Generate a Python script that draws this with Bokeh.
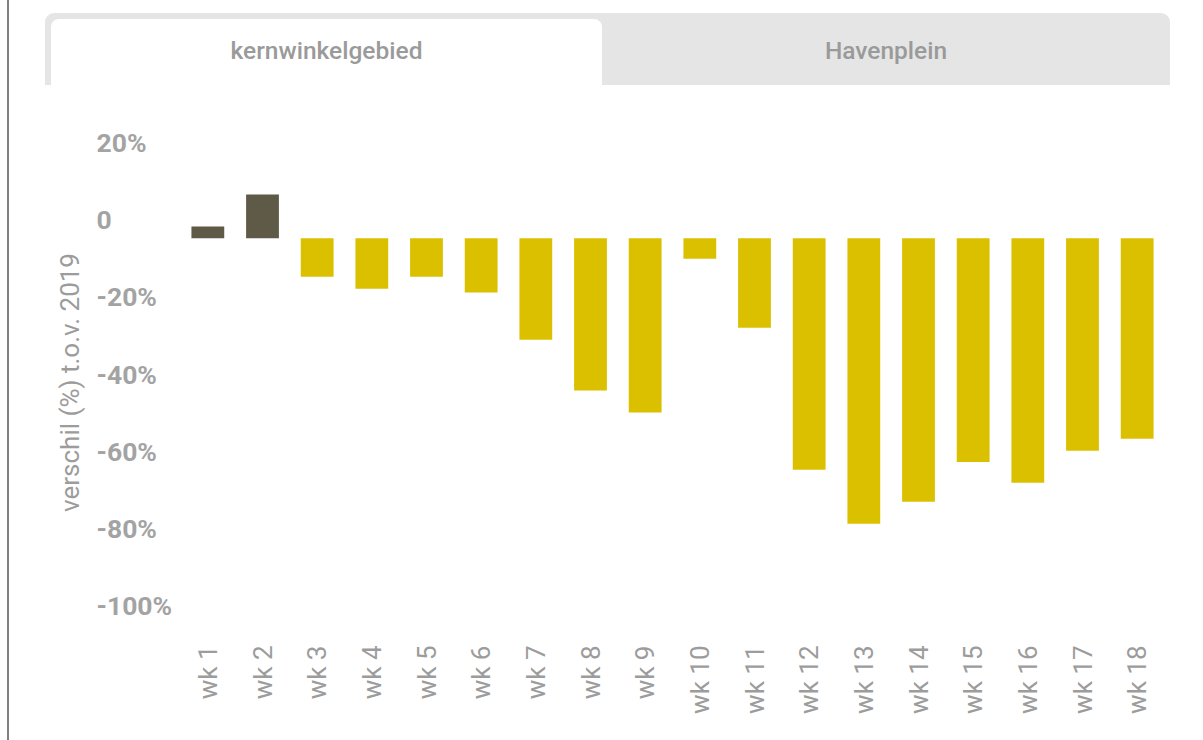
import math
from bokeh.plotting import figure
from bokeh.models import ColumnDataSource, Div, FixedTicker, Range1d, FactorRange
from bokeh.layouts import row, column
from bokeh.core.properties import value
from bokeh.embed import file_html
from bokeh.resources import INLINE

# ---- data ----
weeks = ["wk 1", "wk 2", "wk 3", "wk 4", "wk 5", "wk 6", "wk 7", "wk 8", "wk 9",
         "wk 10", "wk 11", "wk 12", "wk 13", "wk 14", "wk 15", "wk 16", "wk 17", "wk 18"]
values = [3.0, 11.3, -10.0, -13.1, -10.0, -14.1, -26.3, -39.5, -45.2,
          -5.3, -23.2, -60.0, -74.0, -68.3, -58.0, -63.4, -55.1, -52.0]
tick_values = [20, 0, -20, -40, -60, -80, -100]
tick_labels = ["20%", "0", "-20%", "-40%", "-60%", "-80%", "-100%"]
tabs = ["kernwinkelgebied", "Havenplein"]
y_title = "verschil (%) t.o.v. 2019"

DARK = "#5f5947"
YELLOW = "#dbc000"
GREY_TXT = "#9c9c9c"

colors = [DARK if v >= 0 else YELLOW for v in values]
src = ColumnDataSource(dict(week=weeks, value=values, color=colors))

y_range = Range1d(-105.3, 30.5)
H = 640
TOP, BOTTOM = 35, 81

# ---- left companion: y title + left-aligned tick labels ----
pl = figure(x_range=Range1d(0, 1), y_range=y_range, width=171, height=H,
            min_border_left=81, min_border_right=0, min_border_top=TOP, min_border_bottom=BOTTOM,
            x_axis_location=None, output_backend="svg", toolbar_location=None)
pl.grid.visible = False
pl.outline_line_color = None
pl.yaxis.ticker = FixedTicker(ticks=[])
pl.yaxis.major_label_standoff = 0
pl.yaxis.major_tick_out = 0
pl.yaxis.major_tick_in = 0
pl.yaxis.minor_tick_line_color = None
pl.yaxis.major_tick_line_color = None
pl.yaxis.axis_line_color = None
pl.yaxis.axis_label = y_title
pl.yaxis.axis_label_text_font = "Roboto"
pl.yaxis.axis_label_text_font_size = "26px"
pl.yaxis.axis_label_text_font_style = "normal"
pl.yaxis.axis_label_text_color = GREY_TXT
pl.yaxis.axis_label_standoff = 6

lsrc = ColumnDataSource(dict(y=tick_values, text=tick_labels))
pl.text(x=0, y="y", text="text", source=lsrc, x_offset=6, y_offset=-18.5,
        text_align="left", text_baseline="middle",
        text_font=value("Roboto"), text_font_size="26.5px", text_font_style="bold",
        text_color="#a3a3a3")

# ---- main chart ----
p = figure(x_range=FactorRange(factors=weeks, range_padding=0), y_range=y_range,
           width=1010, height=H, y_axis_location=None,
           min_border_left=0, min_border_right=26, min_border_top=TOP, min_border_bottom=BOTTOM,
           output_backend="svg", toolbar_location=None)

p.vbar(x="week", top="value", bottom=0, width=0.6, color="color", line_color=None, source=src)

p.grid.visible = False
p.outline_line_color = None

p.xaxis.major_label_orientation = math.pi / 2
p.xaxis.major_label_text_font = "Roboto"
p.xaxis.major_label_text_font_size = "26px"
p.xaxis.major_label_text_color = GREY_TXT
p.xaxis.major_label_standoff = 1
p.xaxis.major_tick_out = 0
p.xaxis.major_tick_in = 0
p.xaxis.major_tick_line_color = None
p.xaxis.minor_tick_line_color = None
p.xaxis.axis_line_color = None

tab_html = f"""
<div style="position:relative;width:1181px;height:85px;font-family:Roboto,sans-serif;">
  <div style="position:absolute;left:36px;top:13px;width:1125px;height:72px;background:#e5e5e5;border-radius:9px 9px 0 0;"></div>
  <div style="position:absolute;left:42px;top:19px;width:551px;height:66px;background:#ffffff;border-radius:8px 8px 0 0;
              display:flex;align-items:center;justify-content:center;color:#9a9a9a;font-size:24.5px;font-weight:500;padding-bottom:4px;box-sizing:border-box;">{tabs[0]}</div>
  <div style="position:absolute;left:593px;top:19px;width:568px;height:66px;
              display:flex;align-items:center;justify-content:center;color:#9a9a9a;font-size:24.5px;font-weight:500;padding-bottom:4px;box-sizing:border-box;">{tabs[1]}</div>
</div>
"""
tab_div = Div(text=tab_html, width=1181, height=85, margin=0)
spacer = Div(text="", width=7, height=740, margin=0)
line_div = Div(text="", width=2, height=740, margin=0, styles={"background-color": "#7f7f7f"})

layout = row(spacer, line_div, column(tab_div, row(pl, p, spacing=0), spacing=0), spacing=0)

open("out.html", "w").write(file_html(layout, INLINE))
